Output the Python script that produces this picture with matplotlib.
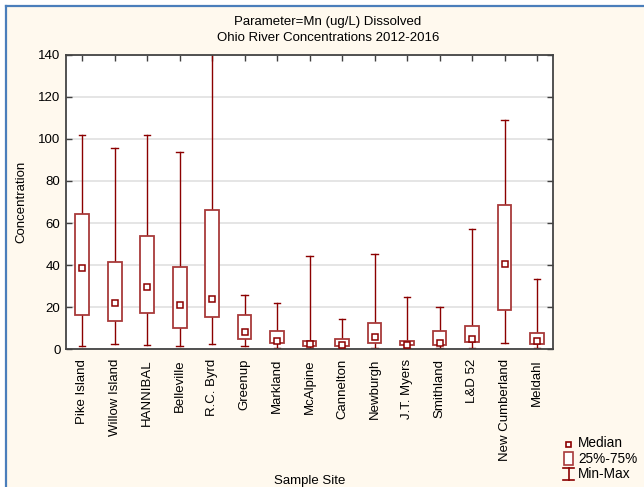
import matplotlib
matplotlib.use("Agg")
import matplotlib.pyplot as plt
from matplotlib.patches import Rectangle
from matplotlib.lines import Line2D
import numpy as np

plt.rcParams['font.family'] = ['Liberation Sans', 'DejaVu Sans']

sites = ["Pike Island", "Willow Island", "HANNIBAL", "Belleville", "R.C. Byrd",
         "Greenup", "Markland", "McAlpine", "Cannelton", "Newburgh",
         "J.T. Myers", "Smithland", "L&D 52", "New Cumberland", "Meldahl"]
mins    = [1.6, 2.4, 1.9, 1.6, 2.7, 1.6, 0.5, 0.5, 0.5, 0.5, 0.5, 0.5, 0.5, 2.9, 0.5]
q1      = [16.5, 13.6, 17.1, 10.3, 15.5, 4.8, 2.9, 1.6, 1.4, 2.9, 1.9, 1.9, 3.3, 18.5, 2.4]
medians = [38.6, 22.2, 29.5, 21.1, 24.1, 8.4, 4.1, 2.5, 2.2, 6.0, 2.2, 2.9, 4.8, 40.7, 4.1]
q3      = [64.3, 41.3, 54.0, 39.3, 66.2, 16.5, 8.6, 4.1, 5.1, 12.7, 4.1, 8.7, 11.2, 68.4, 7.8]
maxs    = [101.8, 95.5, 101.8, 93.6, 155.0, 25.7, 21.9, 44.3, 14.3, 45.5, 24.9, 20.0, 57.0, 108.8, 33.3]
yticks = [0, 20, 40, 60, 80, 100, 120, 140]

BG = "#FFF9EE"
WHISK = "#8B0000"
BOXC = "#A83A3A"

fig = plt.figure(figsize=(6.44, 4.87), dpi=100, facecolor=BG)
W, H = 644, 487
ax = fig.add_axes([66 / W, 1 - 349.3 / H, (553.3 - 66) / W, (349.3 - 54.7) / H])
ax.set_facecolor("white")

x = np.arange(1, len(sites) + 1)
bw = 0.42
cw = 0.2
for xi, lo, a, m, b, hi in zip(x, mins, q1, medians, q3, maxs):
    ax.plot([xi, xi], [lo, a], color=WHISK, lw=1.0, zorder=2)
    ax.plot([xi, xi], [b, hi], color=WHISK, lw=1.0, zorder=2)
    ax.plot([xi - cw / 2, xi + cw / 2], [lo, lo], color=WHISK, lw=1.0, zorder=2)
    ax.plot([xi - cw / 2, xi + cw / 2], [hi, hi], color=WHISK, lw=1.0, zorder=2)
    ax.add_patch(Rectangle((xi - bw / 2, a), bw, b - a, facecolor="white",
                           edgecolor=BOXC, lw=1.3, zorder=3))
    ax.plot([xi], [m], marker="s", ms=4.2, mfc="white", mec=WHISK, mew=1.1,
            zorder=4, ls="none")

ax.set_xlim(0.5, len(sites) + 0.5)
ax.set_ylim(0, 140)
ax.set_yticks(yticks)
ax.set_xticks(x)
ax.set_xticklabels(sites, rotation=90, fontsize=9.5)
ax.tick_params(axis="x", which="both", bottom=False, top=True, direction="in",
               length=4, width=1, color="#404040", pad=7)
ax.tick_params(axis="y", which="both", left=True, right=True, direction="in",
               length=4, width=1, color="#404040", labelsize=9.5, pad=4)
ax.grid(axis="y", color="#E0E0E0", lw=1.2, zorder=0)
ax.set_axisbelow(True)
for s in ax.spines.values():
    s.set_color("#444444")
    s.set_linewidth(1.3)

ax.set_ylabel("Concentration", fontsize=9.5, labelpad=8)
ax.set_xlabel("Sample Site", fontsize=9.5)
ax.xaxis.set_label_coords(0.5, 1 - (475 - 54.7) / (349.3 - 54.7))

fig.text(328 / W, 1 - 22 / H, "Parameter=Mn (ug/L) Dissolved", ha="center",
         va="center", fontsize=9.5)
fig.text(328 / W, 1 - 38 / H, "Ohio River Concentrations 2012-2016", ha="center",
         va="center", fontsize=9.5)

# legend drawn in figure pixels
def fx(px):
    return px / W

def fy(py):
    return 1 - py / H

fig.add_artist(Rectangle((fx(565.5), fy(446.5)), 5 / W, 5 / H, transform=fig.transFigure,
                         facecolor="white", edgecolor=WHISK, lw=1.2))
fig.add_artist(Rectangle((fx(564), fy(465)), 9 / W, 13 / H, transform=fig.transFigure,
                         facecolor="white", edgecolor=BOXC, lw=1.2))
fig.add_artist(Line2D([fx(568.5), fx(568.5)], [fy(468), fy(480)], color=WHISK, lw=1.2,
                      transform=fig.transFigure))
fig.add_artist(Line2D([fx(563), fx(574)], [fy(468), fy(468)], color=WHISK, lw=1.2,
                      transform=fig.transFigure))
fig.add_artist(Line2D([fx(563), fx(574)], [fy(480), fy(480)], color=WHISK, lw=1.2,
                      transform=fig.transFigure))
for ty, label in [(443, "Median"), (459, "25%-75%"), (474, "Min-Max")]:
    fig.text(fx(578), fy(ty), label, ha="left", va="center", fontsize=9.8)

# blue frame on left and top edges
fig.add_artist(Rectangle((0, 0), fx(5), 1, transform=fig.transFigure,
                         facecolor="white", edgecolor="none", zorder=-1))
fig.add_artist(Rectangle((0, fy(5)), 1, 5 / H, transform=fig.transFigure,
                         facecolor="white", edgecolor="none", zorder=-1))
fig.add_artist(Line2D([fx(6), fx(6)], [0, fy(6)], color="#4A7EBB", lw=1.6,
                      transform=fig.transFigure))
fig.add_artist(Line2D([fx(6), 1], [fy(6), fy(6)], color="#4A7EBB", lw=1.6,
                      transform=fig.transFigure))

fig.savefig("out.png", dpi=100, facecolor=BG)
